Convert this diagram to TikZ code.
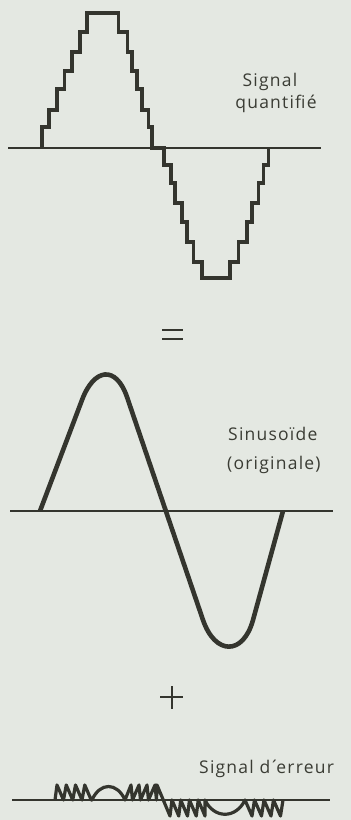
\documentclass[tikz,border=0pt]{standalone}
\usepackage{fontspec}
\setmainfont{Open Sans}[LetterSpace=7.0]
\definecolor{bg}{RGB}{228,232,226}
\definecolor{ink}{RGB}{52,53,46}
\definecolor{txt}{RGB}{58,60,52}
\begin{document}
\begin{tikzpicture}[x=1pt,y=-1pt,
  axis/.style={draw=ink,line width=1.2pt},
  quant/.style={draw=ink,line width=3.6pt,line join=miter,line cap=butt},
  sine/.style={draw=ink,line width=4.6pt,line cap=butt},
  err/.style={draw=ink,line width=3.2pt,line join=round},
  sym/.style={draw=ink,line width=1.5pt},
  lbl/.style={text=txt,inner sep=0pt,font=\fontsize{17.5}{20}\selectfont}]
\fill[bg] (0,0) rectangle (351,820);
\useasboundingbox (0,0) rectangle (351,820);
% ---------- quantised signal ----------
\draw[axis] (8,148) -- (321,148);
\draw[quant] (41.7,148) -- (41.7,127) -- (49,127) -- (49,110) -- (56.7,110) -- (56.7,89)
  -- (64.3,89) -- (64.3,71) -- (71.7,71) -- (71.7,52) -- (80,52) -- (80,32) -- (86.7,32)
  -- (86.7,13) -- (118.3,13) -- (118.3,32) -- (127.3,32) -- (127.3,52) -- (131.7,52)
  -- (131.7,71) -- (136.7,71) -- (136.7,89) -- (141.7,89) -- (141.7,110) -- (148.3,110)
  -- (148.3,127) -- (151.7,127) -- (151.7,148) -- (164,148) -- (164,165) -- (170.7,165)
  -- (170.7,183) -- (175,183) -- (175,203) -- (181.7,203) -- (181.7,222) -- (186.7,222)
  -- (186.7,242) -- (193.3,242) -- (193.3,262) -- (201.7,262) -- (201.7,278) -- (230,278)
  -- (230,262) -- (238.3,262) -- (238.3,242) -- (246.7,242) -- (246.7,222) -- (251.7,222)
  -- (251.7,203) -- (258.3,203) -- (258.3,183) -- (263.3,183) -- (263.3,165) -- (268.3,165)
  -- (268.3,148);
\node[lbl,anchor=base] (q1) at (270,86) {Signal};
\node[lbl,anchor=base] (q2) at (276,108) {quantifié};
% ---------- equals ----------
\draw[sym] (162,330) -- (183,330);
\draw[sym] (162,339) -- (183,339);
% ---------- sinusoid ----------
\draw[axis] (10,511) -- (333,511);
\draw[sine] (40,511) -- (82,400) .. controls (94,368) and (116,365) .. (127,397)
  -- (203,620) .. controls (215,655) and (243,656) .. (253,620) -- (283,511);
\node[lbl,anchor=base west] (s1) at (228,440) {Sinusoïde};
\node[lbl,anchor=base west] (s2) at (227,469) {(originale)};
% ---------- plus ----------
\draw[sym] (160,697) -- (183,697);
\draw[sym] (172,686) -- (172,709);
% ---------- error signal ----------
\node[lbl,anchor=base west] (e1) at (199,773) {Signal d\kern-1pt´\kern-3pt erreur};
\draw[axis] (12,800) -- (330,800);
\draw[err] (55,800) \foreach \i in {0,...,3}{ -- ({57+9.25*\i},785) -- ({63.5+9.25*\i},800) }
  -- (92,800) .. controls (100,782) and (117,782) .. (125,800)
  \foreach \i in {0,...,3}{ -- ({131+8*\i},785) -- ({132.5+8*\i},800) }
  -- (157,785) -- (170,816)
  \foreach \i in {0,...,3}{ -- ({172+8.75*\i},800) -- ({178.75+8.75*\i},816) }
  -- (205,800) .. controls (214,819) and (236,819) .. (245,800)
  \foreach \i in {0,...,3}{ -- ({252+9.5*\i},816) -- ({254.5+9.5*\i},800) };
\end{tikzpicture}
\end{document}
